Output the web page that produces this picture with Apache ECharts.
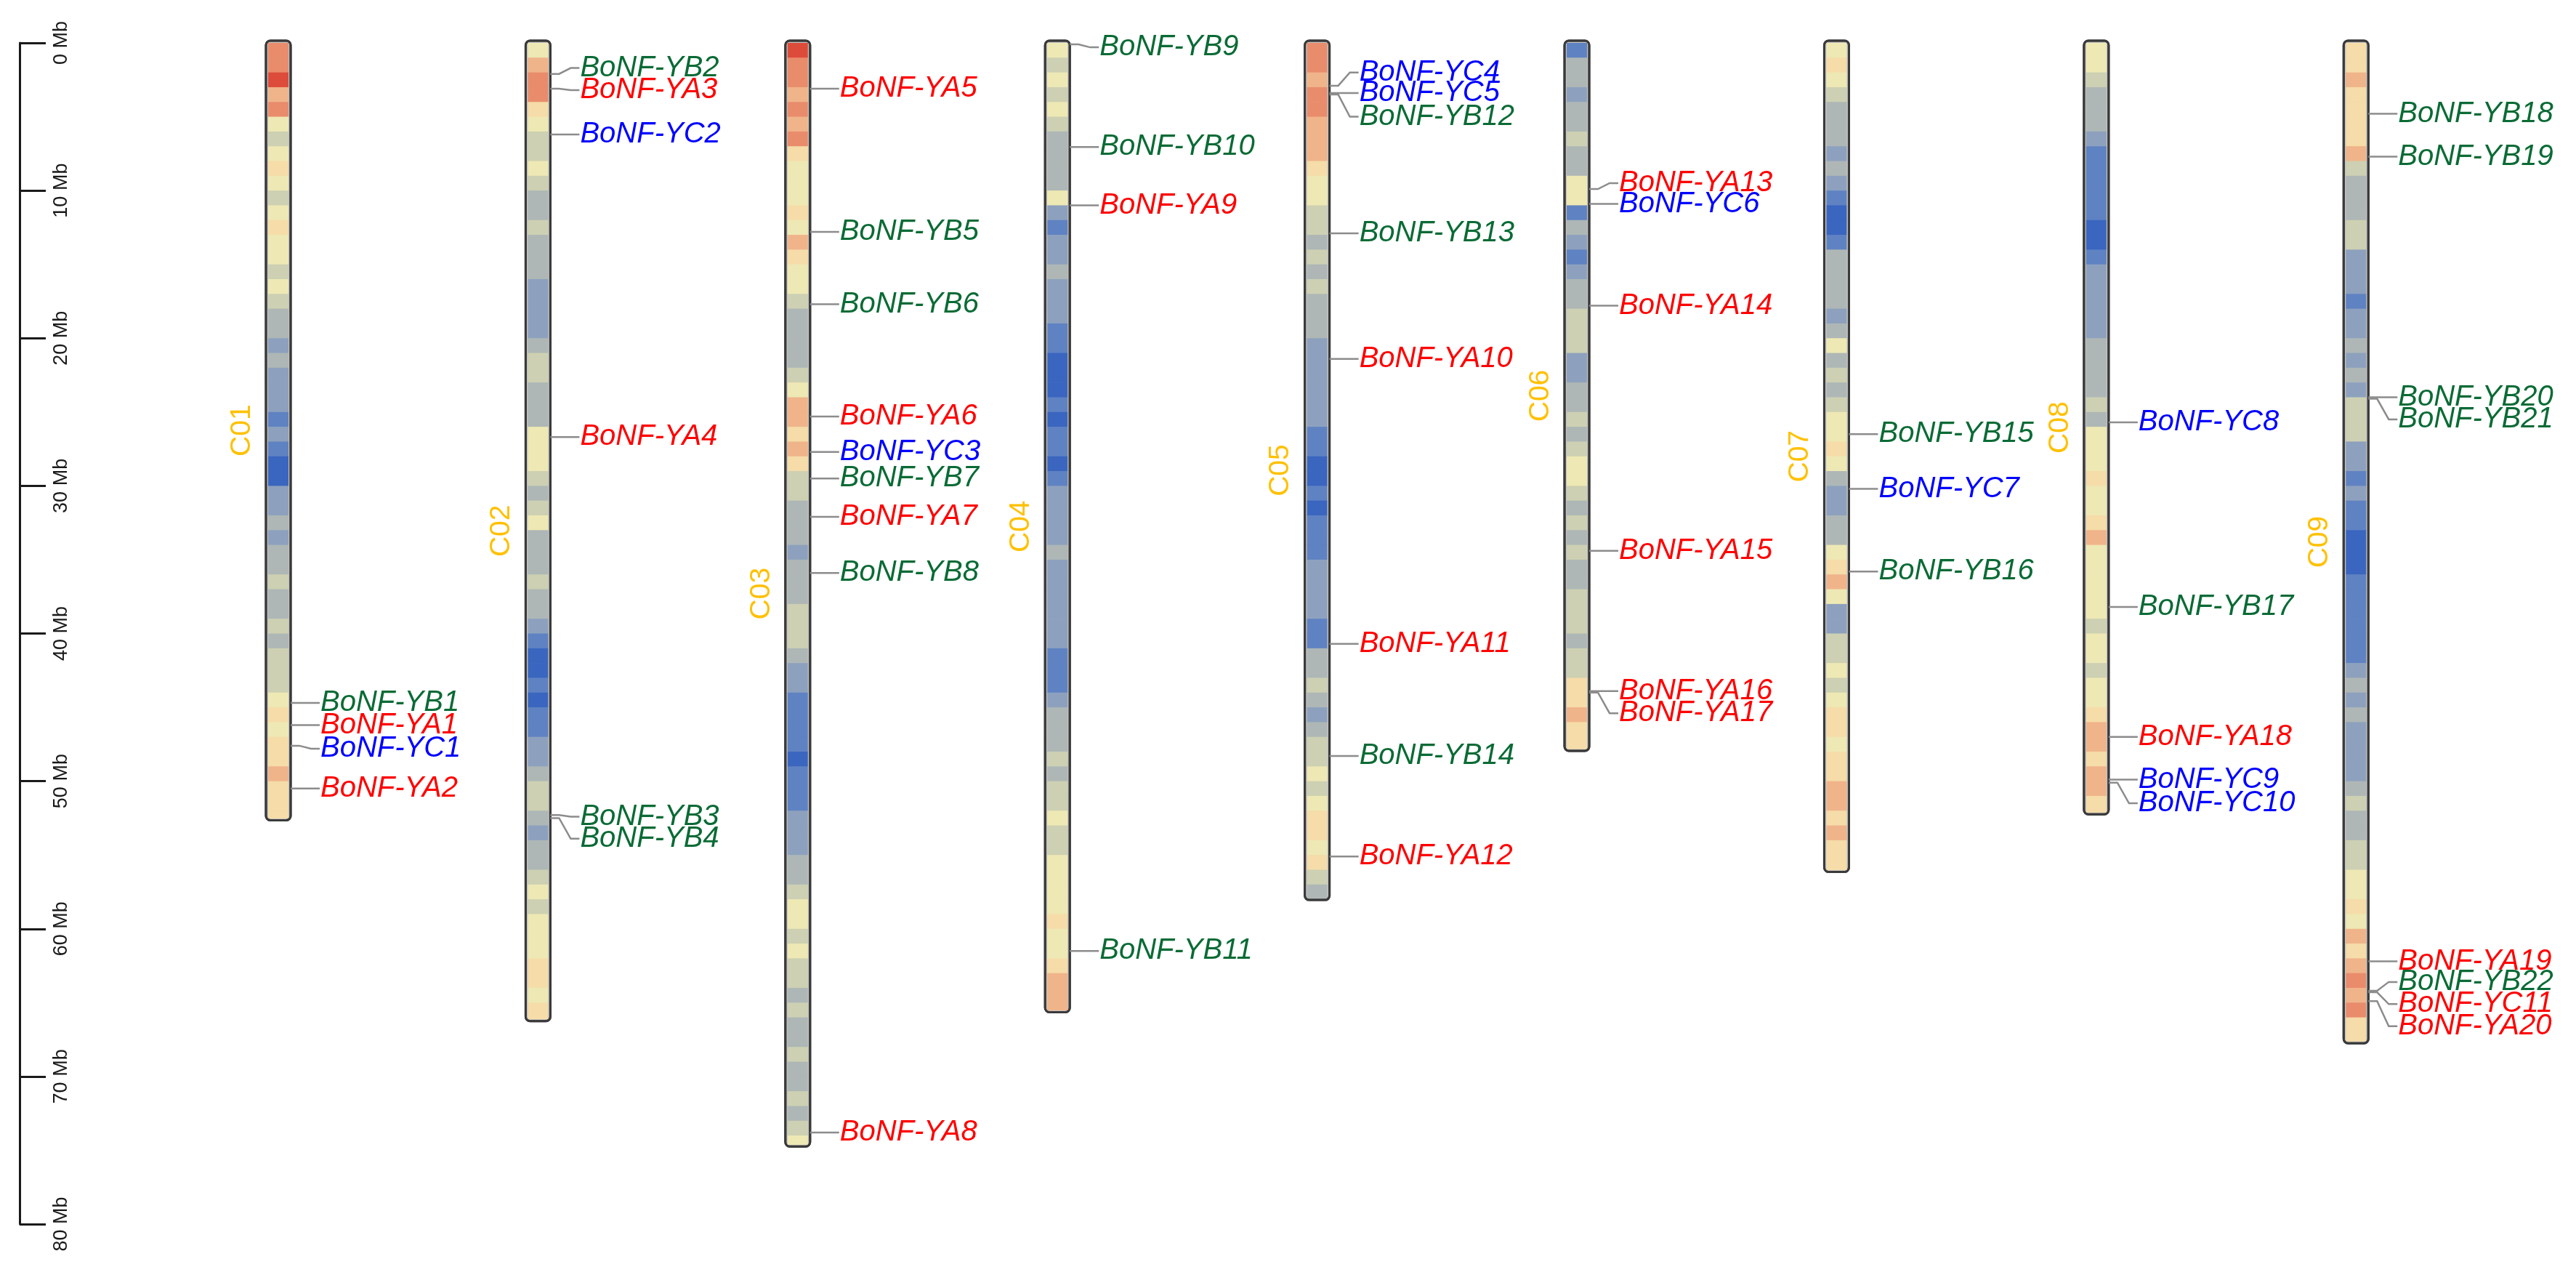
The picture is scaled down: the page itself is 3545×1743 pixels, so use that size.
<!DOCTYPE html>
<html>
<head>
<meta charset="utf-8">
<title>BoNF-Y chromosome map</title>
<script src="https://cdn.jsdelivr.net/npm/echarts@6/dist/echarts.min.js"></script>
<style>
  html, body { margin: 0; padding: 0; background: #fff; }
  #chart { width: 3545px; height: 1743px; }
</style>
</head>
<body>
<div id="chart"></div>
<script>
// chromosomes and their lengths (Mb)
const chromNames = ['C01', 'C02', 'C03', 'C04', 'C05', 'C06', 'C07', 'C08', 'C09']
const chromLengths = [52.5, 66.1, 74.6, 65.5, 57.9, 47.8, 56.0, 52.1, 67.6]

// gene density per 1 Mb bin (0 = low / blue ... 9 = high / red)
const densityC01 = [8, 8, 9, 7, 8, 5, 4, 5, 6, 5, 4, 5, 6, 5, 5, 4, 5, 4, 3, 3, 2, 3, 2, 2, 2, 1, 2, 1, 0, 0, 2, 2, 3, 2, 3, 3, 4, 3, 3, 4, 3, 4, 4, 4, 5, 6, 5, 6, 6, 7, 6, 6, 6]
const densityC02 = [5, 7, 8, 8, 6, 5, 4, 4, 5, 4, 3, 3, 4, 3, 3, 3, 2, 2, 2, 2, 3, 4, 4, 3, 3, 3, 5, 5, 5, 4, 3, 4, 5, 3, 3, 3, 4, 3, 3, 2, 1, 0, 0, 1, 0, 1, 1, 2, 2, 3, 4, 4, 3, 2, 3, 3, 4, 5, 4, 5, 5, 5, 6, 6, 5, 6, 6]
const densityC03 = [9, 8, 8, 7, 8, 7, 8, 6, 5, 5, 5, 6, 5, 7, 6, 5, 5, 4, 3, 3, 3, 3, 4, 5, 7, 7, 6, 7, 6, 4, 4, 3, 3, 3, 2, 3, 3, 3, 4, 4, 4, 3, 2, 2, 1, 1, 1, 1, 0, 1, 1, 1, 2, 2, 2, 3, 3, 4, 5, 5, 4, 5, 4, 4, 3, 4, 3, 3, 4, 3, 3, 4, 3, 4, 5]
const densityC04 = [5, 4, 5, 4, 5, 4, 3, 3, 3, 3, 5, 2, 1, 2, 2, 3, 2, 2, 2, 1, 1, 0, 0, 0, 1, 0, 1, 1, 0, 1, 2, 2, 2, 2, 3, 2, 2, 2, 2, 2, 2, 1, 1, 1, 2, 3, 3, 3, 4, 3, 4, 4, 5, 4, 4, 5, 5, 5, 5, 6, 5, 5, 6, 7, 7, 7]
const densityC05 = [8, 8, 7, 8, 8, 7, 7, 7, 6, 5, 5, 4, 4, 3, 4, 3, 4, 3, 3, 3, 2, 2, 2, 2, 2, 2, 1, 1, 0, 0, 1, 0, 1, 1, 1, 2, 2, 2, 2, 1, 1, 3, 3, 4, 3, 2, 3, 4, 4, 5, 4, 5, 6, 6, 5, 6, 4, 3]
const densityC06 = [1, 3, 3, 2, 3, 3, 4, 3, 3, 5, 5, 1, 3, 2, 1, 2, 3, 3, 4, 4, 4, 2, 2, 3, 3, 4, 3, 4, 5, 5, 4, 3, 4, 3, 4, 3, 3, 4, 4, 4, 3, 4, 4, 6, 6, 7, 6, 6]
const densityC07 = [5, 6, 5, 4, 3, 3, 3, 2, 3, 2, 1, 0, 0, 1, 3, 3, 3, 3, 2, 3, 5, 3, 4, 3, 4, 5, 5, 6, 5, 3, 2, 2, 3, 3, 5, 6, 7, 5, 2, 2, 4, 4, 5, 4, 5, 6, 6, 5, 6, 6, 7, 7, 6, 7, 6, 6]
const densityC08 = [5, 5, 4, 3, 3, 3, 2, 1, 1, 1, 1, 1, 0, 0, 1, 2, 2, 2, 2, 2, 3, 3, 3, 3, 4, 3, 5, 5, 5, 6, 5, 5, 6, 7, 5, 5, 5, 5, 5, 4, 5, 5, 4, 5, 5, 6, 7, 7, 6, 7, 7, 6, 6]
const densityC09 = [6, 6, 7, 6, 6, 6, 6, 7, 4, 3, 3, 3, 4, 4, 2, 2, 2, 1, 2, 2, 3, 2, 3, 2, 4, 4, 4, 2, 2, 1, 2, 1, 1, 0, 0, 0, 1, 1, 1, 1, 1, 1, 2, 3, 2, 3, 2, 2, 2, 2, 3, 4, 3, 3, 4, 4, 5, 5, 6, 5, 7, 6, 7, 8, 7, 8, 6, 6]
const chromDensity = [densityC01, densityC02, densityC03, densityC04, densityC05, densityC06, densityC07, densityC08, densityC09]

// genes: chromosome index, position (Mb), where the label sits (Mb), label group
const geneNames = [
  'BoNF-YB1', 'BoNF-YA1', 'BoNF-YC1', 'BoNF-YA2',
  'BoNF-YB2', 'BoNF-YA3', 'BoNF-YC2', 'BoNF-YA4', 'BoNF-YB3', 'BoNF-YB4',
  'BoNF-YA5', 'BoNF-YB5', 'BoNF-YB6', 'BoNF-YA6', 'BoNF-YC3', 'BoNF-YB7', 'BoNF-YA7', 'BoNF-YB8', 'BoNF-YA8',
  'BoNF-YB9', 'BoNF-YB10', 'BoNF-YA9', 'BoNF-YB11',
  'BoNF-YC4', 'BoNF-YC5', 'BoNF-YB12', 'BoNF-YB13', 'BoNF-YA10', 'BoNF-YA11', 'BoNF-YB14', 'BoNF-YA12',
  'BoNF-YA13', 'BoNF-YC6', 'BoNF-YA14', 'BoNF-YA15', 'BoNF-YA16', 'BoNF-YA17',
  'BoNF-YB15', 'BoNF-YC7', 'BoNF-YB16',
  'BoNF-YC8', 'BoNF-YB17', 'BoNF-YA18', 'BoNF-YC9', 'BoNF-YC10',
  'BoNF-YB18', 'BoNF-YB19', 'BoNF-YB20', 'BoNF-YB21', 'BoNF-YA19', 'BoNF-YB22', 'BoNF-YC11', 'BoNF-YA20'
]
const geneChrom = [
  0, 0, 0, 0,
  1, 1, 1, 1, 1, 1,
  2, 2, 2, 2, 2, 2, 2, 2, 2,
  3, 3, 3, 3,
  4, 4, 4, 4, 4, 4, 4, 4,
  5, 5, 5, 5, 5, 5,
  6, 6, 6,
  7, 7, 7, 7, 7,
  8, 8, 8, 8, 8, 8, 8, 8
]
const genePos = [
  44.7, 46.2, 47.6, 50.5,
  2.1, 3.1, 6.2, 26.7, 52.3, 52.5,
  3.1, 12.8, 17.7, 25.3, 27.7, 29.5, 32.1, 35.9, 73.8,
  0.1, 7.05, 11.0, 61.5,
  2.9, 3.4, 3.5, 12.9, 21.4, 40.7, 48.3, 55.1,
  9.9, 10.9, 17.8, 34.4, 43.9, 44.0,
  26.5, 30.2, 35.8,
  25.7, 38.2, 47.0, 49.9, 50.1,
  4.8, 7.7, 24.0, 24.1, 62.2, 64.2, 64.3, 64.9
]
const geneLabelPos = [
  44.7, 46.2, 47.8, 50.5,
  1.7, 3.2, 6.2, 26.7, 52.4, 53.9,
  3.1, 12.8, 17.7, 25.3, 27.7, 29.5, 32.1, 35.9, 73.8,
  0.3, 7.05, 11.0, 61.5,
  2.0, 3.4, 5.0, 12.9, 21.4, 40.7, 48.3, 55.1,
  9.5, 10.9, 17.8, 34.4, 43.9, 45.4,
  26.5, 30.2, 35.8,
  25.7, 38.2, 47.0, 49.9, 51.5,
  4.8, 7.7, 24.0, 25.5, 62.2, 63.6, 65.1, 66.6
]
// label colour group as drawn (BoNF-YC11 is drawn in the YA colour in the original)
const geneGroup = [
  'YB', 'YA', 'YC', 'YA',
  'YB', 'YA', 'YC', 'YA', 'YB', 'YB',
  'YA', 'YB', 'YB', 'YA', 'YC', 'YB', 'YA', 'YB', 'YA',
  'YB', 'YB', 'YA', 'YB',
  'YC', 'YC', 'YB', 'YB', 'YA', 'YA', 'YB', 'YA',
  'YA', 'YC', 'YA', 'YA', 'YA', 'YA',
  'YB', 'YC', 'YB',
  'YC', 'YB', 'YA', 'YC', 'YC',
  'YB', 'YB', 'YB', 'YB', 'YA', 'YB', 'YA', 'YA'
]

const axisMax = 80
const axisInterval = 10

const groupColor = { YA: '#FF0000', YB: '#0A6B35', YC: '#0000FF' }
const FONT = '"Liberation Sans", Arial, Helvetica, sans-serif'
const CHROM_W = 34
const BAND_W = 28

// build series data
const bandData = []
chromDensity.forEach(function (bins, ci) {
  for (let k = 0; k < bins.length; k++) {
    const start = k
    const end = Math.min(k + 1, chromLengths[ci])
    if (end > start) bandData.push([ci, start, end, bins[k]])
  }
})
const chromData = chromNames.map(function (name, ci) {
  return [ci, 0, chromLengths[ci]]
})
const geneData = geneNames.map(function (name, i) {
  return [geneChrom[i], genePos[i], geneLabelPos[i]]
})

function renderBand (params, api) {
  const top = api.coord([api.value(0), api.value(1)])
  const bot = api.coord([api.value(0), api.value(2)])
  return {
    type: 'rect',
    shape: { x: top[0] - BAND_W / 2, y: top[1], width: BAND_W, height: bot[1] - top[1] + 0.6 },
    style: { fill: api.visual('color') }
  }
}

function renderChromFrame (params, api) {
  const top = api.coord([api.value(0), api.value(1)])
  const bot = api.coord([api.value(0), api.value(2)])
  return {
    type: 'rect',
    shape: { x: top[0] - CHROM_W / 2, y: top[1] - 3, width: CHROM_W, height: bot[1] - top[1] + 6, r: 6 },
    style: { fill: '#c4c4c4', stroke: '#3a3a3a', lineWidth: 3 }
  }
}

function renderChromOutline (params, api) {
  const top = api.coord([api.value(0), api.value(1)])
  const bot = api.coord([api.value(0), api.value(2)])
  const name = chromNames[params.dataIndex]
  return {
    type: 'group',
    children: [
      {
        type: 'rect',
        shape: { x: top[0] - CHROM_W / 2, y: top[1] - 3, width: CHROM_W, height: bot[1] - top[1] + 6, r: 6 },
        style: { fill: 'none', stroke: '#3a3a3a', lineWidth: 3 }
      },
      {
        type: 'text',
        x: top[0] - CHROM_W / 2 - 33,
        y: (top[1] + bot[1]) / 2,
        rotation: Math.PI / 2,
        style: {
          text: name, fill: '#FFC000', fontSize: 39, fontFamily: FONT,
          align: 'center', verticalAlign: 'middle'
        }
      }
    ]
  }
}

function renderGene (params, api) {
  const i = params.dataIndex
  const p = api.coord([api.value(0), api.value(1)])
  const l = api.coord([api.value(0), api.value(2)])
  const edge = p[0] + CHROM_W / 2
  return {
    type: 'group',
    children: [
      {
        type: 'polyline',
        shape: { points: [[edge, p[1]], [edge + 12, p[1]], [edge + 28, l[1]], [edge + 40, l[1]]] },
        style: { stroke: '#8c8c8c', lineWidth: 2.5, fill: null }
      },
      {
        type: 'text',
        x: edge + 41,
        y: l[1],
        style: {
          text: geneNames[i], fill: groupColor[geneGroup[i]],
          fontSize: 40, fontStyle: 'italic', fontFamily: FONT,
          align: 'left', verticalAlign: 'middle'
        }
      }
    ]
  }
}

const chart = echarts.init(document.getElementById('chart'), null, { renderer: 'canvas' })
chart.setOption({
  backgroundColor: '#ffffff',
  animation: false,
  grid: { left: 27, right: 0, top: 59, bottom: 59, containLabel: false, outerBoundsMode: 'none' },
  xAxis: { type: 'value', min: -0.996, max: 8.847, show: false },
  yAxis: {
    type: 'value',
    position: 'left',
    inverse: true,
    min: 0,
    max: axisMax,
    interval: axisInterval,
    splitLine: { show: false },
    axisLine: { show: true, onZero: false, lineStyle: { color: '#1a1a1a', width: 3 } },
    axisTick: { show: true, inside: true, length: 36, lineStyle: { color: '#1a1a1a', width: 3 } },
    axisLabel: {
      inside: true,
      rotate: 90,
      margin: 44,
      fontSize: 27,
      fontFamily: FONT,
      color: '#1a1a1a',
      formatter: '{value} Mb'
    }
  },
  visualMap: {
    show: false,
    type: 'continuous',
    seriesIndex: 1,
    dimension: 3,
    min: 0,
    max: 9,
    inRange: {
      color: ['#3A66C0', '#5F82C2', '#8DA1BE', '#AEB7B6', '#CDD0B2', '#EEE8B4', '#F5DCA8', '#F0B48A', '#E98C6C', '#DD4B3A']
    }
  },
  series: [
    { type: 'custom', renderItem: renderChromFrame, data: chromData, z: 1, silent: true, clip: false, encode: { x: 0, y: [1, 2] } },
    { type: 'custom', renderItem: renderBand, data: bandData, z: 2, silent: true, clip: false, encode: { x: 0, y: [1, 2] } },
    { type: 'custom', renderItem: renderChromOutline, data: chromData, z: 3, silent: true, clip: false, encode: { x: 0, y: [1, 2] } },
    { type: 'custom', renderItem: renderGene, data: geneData, z: 4, silent: true, clip: false, encode: { x: 0, y: [1, 2] } }
  ]
})
window.addEventListener('resize', function () { chart.resize() })
</script>
</body>
</html>
